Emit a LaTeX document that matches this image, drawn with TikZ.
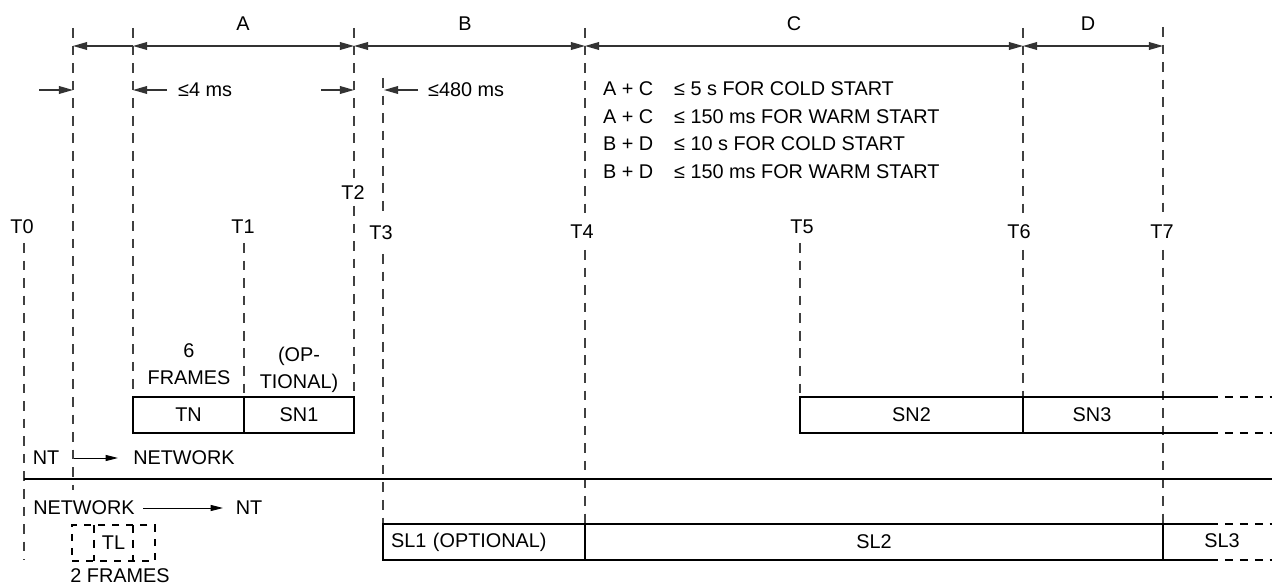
\documentclass[tikz,border=0pt]{standalone}
\usepackage{fontspec}
\setmainfont{Liberation Sans}
\usetikzlibrary{arrows.meta}

\begin{document}
\begin{tikzpicture}[x=0.02cm, y=-0.02cm,
  every node/.style={font=\fontsize{11.3}{15.3}\selectfont, inner sep=1pt},
  guide/.style={draw=black!75, line width=0.7pt, dash pattern=on 5.5pt off 4.5pt},
  dim/.style={{Triangle[length=8pt,width=4.4pt]}-{Triangle[length=8pt,width=4.4pt]}, line width=0.7pt, draw=black!80},
  lim/.style={-{Triangle[length=8pt,width=4.4pt]}, line width=0.7pt, draw=black!80},
  flow/.style={-{Triangle[length=7pt,width=3.4pt]}, line width=0.5pt},
  slot/.style={draw, line width=1pt, minimum height=0.72cm, inner sep=0pt},
  rail/.style={line width=1pt},
  tail/.style={line width=1pt, dash pattern=on 4.5pt off 4pt}]
\useasboundingbox (0,0) rectangle (1272,587);

% time marks
\node (t0) at (22,227) {T0};
\node (t1) at (243,227) {T1};
\node (t2) at (353,193) {T2};
\node (t3) at (381,233) {T3};
\node (t4) at (582,232) {T4};
\node (t5) at (802,227) {T5};
\node (t6) at (1019,232) {T6};
\node (t7) at (1162,232) {T7};

% dashed guides
\draw[guide] (24,243) -- (24,560);
\draw[guide] (73,28) -- (73,490);
\draw[guide] (133,28) -- (133,397);
\draw[guide] (244,243) -- (244,397);
\draw[guide] (354,28) -- (354,178) (354,206) -- (354,397);
\draw[guide] (383,78) -- (383,217) (383,254) -- (383,524);
\draw[guide] (585,28) -- (585,214) (585,250) -- (585,524);
\draw[guide] (800,243) -- (800,397);
\draw[guide] (1023,28) -- (1023,214) (1023,250) -- (1023,397);
\draw[guide] (1163,27) -- (1163,214) (1163,250) -- (1163,524);

% intervals A-D
\foreach \n/\x in {p/73,q/133,r/354,s/585,t/1023,u/1163}
  \coordinate (top\n) at (\x,46);
\draw[lim] (topq) -- (topp);
\draw[dim] (topq) -- (topr);
\draw[dim] (topr) -- (tops);
\draw[dim] (tops) -- (topt);
\draw[dim] (topt) -- (topu);
\node (lA) at (243,24) {A};
\node (lB) at (465,24) {B};
\node (lC) at (794,24) {C};
\node (lD) at (1088,24) {D};

% limits
\foreach \n/\x in {0/39,1/73,2/167,3/133,4/321,5/354,6/418,7/384}
  \coordinate (m\n) at (\x,90);
\draw[lim] (m0) -- (m1);
\draw[lim] (m2) -- (m3);
\draw[lim] (m4) -- (m5);
\draw[lim] (m6) -- (m7);
\node[anchor=west] (ms4) at (176,90) {≤4 ms};
\node[anchor=west] (ms480) at (426,90) {≤480 ms};

\foreach \i/\y/\s/\r in {1/89/A + C/5 s FOR COLD START,
    2/117/A + C/150 ms FOR WARM START,
    3/144/B + D/10 s FOR COLD START,
    4/172/B + D/150 ms FOR WARM START} {
  \node[anchor=west] (sum\i) at (601,\y) {\s};
  \node[anchor=west] (cap\i) at (672,\y) {≤ \r};
}

% NT -> network frames
\node[align=center] (cnt) at (189,364) {6\\FRAMES};
\node[align=center] (opt) at (299,370) {(OP-\\TIONAL)};
\node[slot, minimum width=2.22cm] (tn) at (188.5,415) {TN};
\node[slot, minimum width=2.2cm] (sn1) at (299,415) {SN1};
\node[slot, minimum width=4.46cm] (sn2) at (911.5,415) {SN2};
\node (sn3) at (1092,415) {SN3};
\draw[rail] (1023,397) -- (1210,397) (1023,433) -- (1210,433);
\draw[tail] (1210,397) -- (1272,397) (1210,433) -- (1272,433);

\node (nt1) at (46,458) {NT};
\node (net1) at (184,458) {NETWORK};
\coordinate (f1a) at (74,458);
\coordinate (f1b) at (118,458);
\draw[flow] (f1a) -- (f1b);

\draw[line width=1.1pt] (24,479) -- (1272,479);

% network -> NT frames
\node (net2) at (84,508) {NETWORK};
\node (nt2) at (249,508) {NT};
\coordinate (f2a) at (143,508);
\coordinate (f2b) at (223,508);
\draw[flow] (f2a) -- (f2b);

\node[draw, line width=1pt, dash pattern=on 4pt off 4pt, minimum width=1.66cm, minimum height=0.72cm] (tl) at (113.5,543) {TL};
\draw[tail] (94,525) -- (94,561) (133,525) -- (133,561);
\node (two) at (120,576) {2 FRAMES};

\node[slot, minimum width=4.04cm, text width=3.72cm, inner xsep=0.16cm, align=left] (sl1) at (484,542) {SL1 (OPTIONAL)};
\node[slot, minimum width=11.56cm] (sl2) at (874,542) {SL2};
\node (sl3) at (1222,541) {SL3};
\draw[rail] (1163,524) -- (1210,524) (1163,560) -- (1210,560);
\draw[tail] (1210,524) -- (1272,524) (1210,560) -- (1272,560);
\end{tikzpicture}
\end{document}
